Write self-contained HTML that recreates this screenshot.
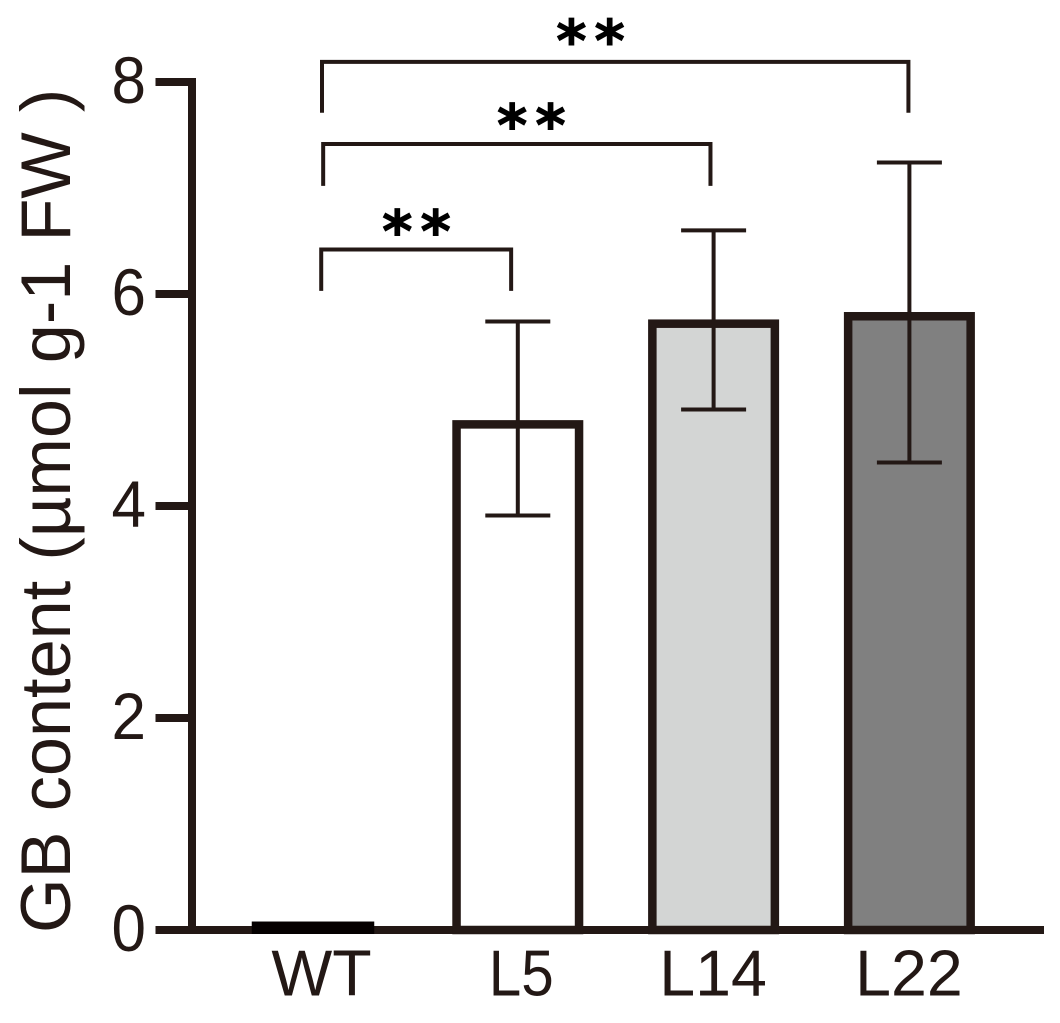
<!DOCTYPE html>
<html lang="en">
<head>
<meta charset="utf-8">
<title>GB content bar chart</title>
<style>
html,body{margin:0;padding:0;background:#fff;}
svg{display:block;}
text{font-family:"Liberation Sans",Arial,sans-serif;fill:#231815;}
text.star{font-family:"DejaVu Sans",sans-serif;font-weight:bold;fill:#000;stroke:#000;stroke-width:0.9;}
</style>
</head>
<body>
<svg id="chart" xmlns="http://www.w3.org/2000/svg" width="1060" height="1023" viewBox="0 0 1060 1023">
<text transform="translate(70,933) rotate(-90)" font-size="70.3" word-spacing="0.6">GB content (µmol g-1 FW )</text>
</svg>
<script>
const categories = ['WT', 'L5', 'L14', 'L22'];
const means = [0.08, 4.77, 5.72, 5.79];
const errHigh = [null, 5.74, 6.60, 7.24];
const errLow = [null, 3.91, 4.91, 4.41];
const fills = ['#050000', '#ffffff', '#d3d5d4', '#808080'];
const yTicks = [0, 2, 4, 6, 8];
const bracketFrom = [-0.004, 0.006, 0];
const bracketTo = [0.966, 1.984, 2.995];
const bracketTop = [6.42, 7.415, 8.19];
const bracketEnd = [6.03, 7.02, 7.71];
const bracketLabels = ['**', '**', '**'];
const bracketLabelAt = [0.485, 1.072, 1.374];
const bracketLabelLevel = [6.40, 7.40, 8.20];

const INK = '#231815';
const svg = document.getElementById('chart');
const NS = 'http://www.w3.org/2000/svg';
function yScale(v) { return 930 - 106 * v; }
function xScale(i) { return 322 + 195.8 * i; }
function make(tag, props, text) {
  const el = document.createElementNS(NS, tag);
  for (const k in props) el.setAttribute(k, props[k]);
  if (text !== undefined) el.textContent = text;
  svg.appendChild(el);
  return el;
}
const BAR_W = 122.5;

/* axes */
const yAxis = make('line', { x1: 192, x2: 192, y1: yScale(8) - 4, y2: yScale(0) + 4, stroke: INK, 'stroke-width': 8 });


const xAxis = make('line', { x1: 155.5, x2: 1044, y1: yScale(0), y2: yScale(0), stroke: INK, 'stroke-width': 8 });



/* bars */
categories.forEach(function (c, i) {
  const top = yScale(means[i]);
  if (i === 0) {
    const wt = make('rect', { x: xScale(i) - 9 - BAR_W / 2, y: top, width: BAR_W, height: 934 - top, fill: fills[i] });
    
    
  } else {
    const bar = make('rect', { x: xScale(i) - BAR_W / 2, y: top, width: BAR_W, height: 930 - top, fill: fills[i], stroke: INK, 'stroke-width': 8.5 });
    
    
  }
});

yTicks.forEach(function (t) {
  const tick = make('line', { x1: 155.5, x2: 192, y1: yScale(t), y2: yScale(t), stroke: INK, 'stroke-width': 8 });
  
  
  const label = make('text', { x: 146, y: yScale(t) + 21, 'font-size': 66, 'text-anchor': 'end', textLength: 34.5, lengthAdjust: 'spacingAndGlyphs' }, String(t));
  
  
});

categories.forEach(function (c, i) {
  const props = { x: xScale(i) + (i === 1 ? 3.5 : -0.5), y: 995.5, 'font-size': 64.5, 'text-anchor': 'middle' };
  if (i === 1) {
    props.textLength = 65;
    props.lengthAdjust = 'spacingAndGlyphs';
  }
  const label = make('text', props, c);
  
  
});

/* error bars */
categories.forEach(function (c, i) {
  if (errHigh[i] === null) return;
  const cx = xScale(i);
  const stem = make('line', { x1: cx, x2: cx, y1: yScale(errHigh[i]), y2: yScale(errLow[i]), stroke: INK, 'stroke-width': 4 });
  
  
  const capTop = make('line', { x1: cx - 32.5, x2: cx + 32.5, y1: yScale(errHigh[i]), y2: yScale(errHigh[i]), stroke: INK, 'stroke-width': 4 });
  
  
  const capLow = make('line', { x1: cx - 32.5, x2: cx + 32.5, y1: yScale(errLow[i]), y2: yScale(errLow[i]), stroke: INK, 'stroke-width': 4 });
  
  
});

/* significance brackets */
bracketFrom.forEach(function (from, b) {
  const x1 = xScale(from);
  const x2 = xScale(bracketTo[b]);
  const yT = yScale(bracketTop[b]);
  const yE = yScale(bracketEnd[b]);
  const target = categories[Math.round(bracketTo[b])].toLowerCase();
  const path = make('path', { d: 'M' + x1 + ' ' + yE + 'V' + yT + 'H' + x2 + 'V' + yE, fill: 'none', stroke: INK, 'stroke-width': 4 });
  
  
  const star = make('text', { class: 'star', x: xScale(bracketLabelAt[b]) + 3.5, y: yScale(bracketLabelLevel[b]), 'font-size': 58, 'text-anchor': 'middle', 'letter-spacing': 8 }, bracketLabels[b]);
  
  
});
</script>
</body>
</html>
